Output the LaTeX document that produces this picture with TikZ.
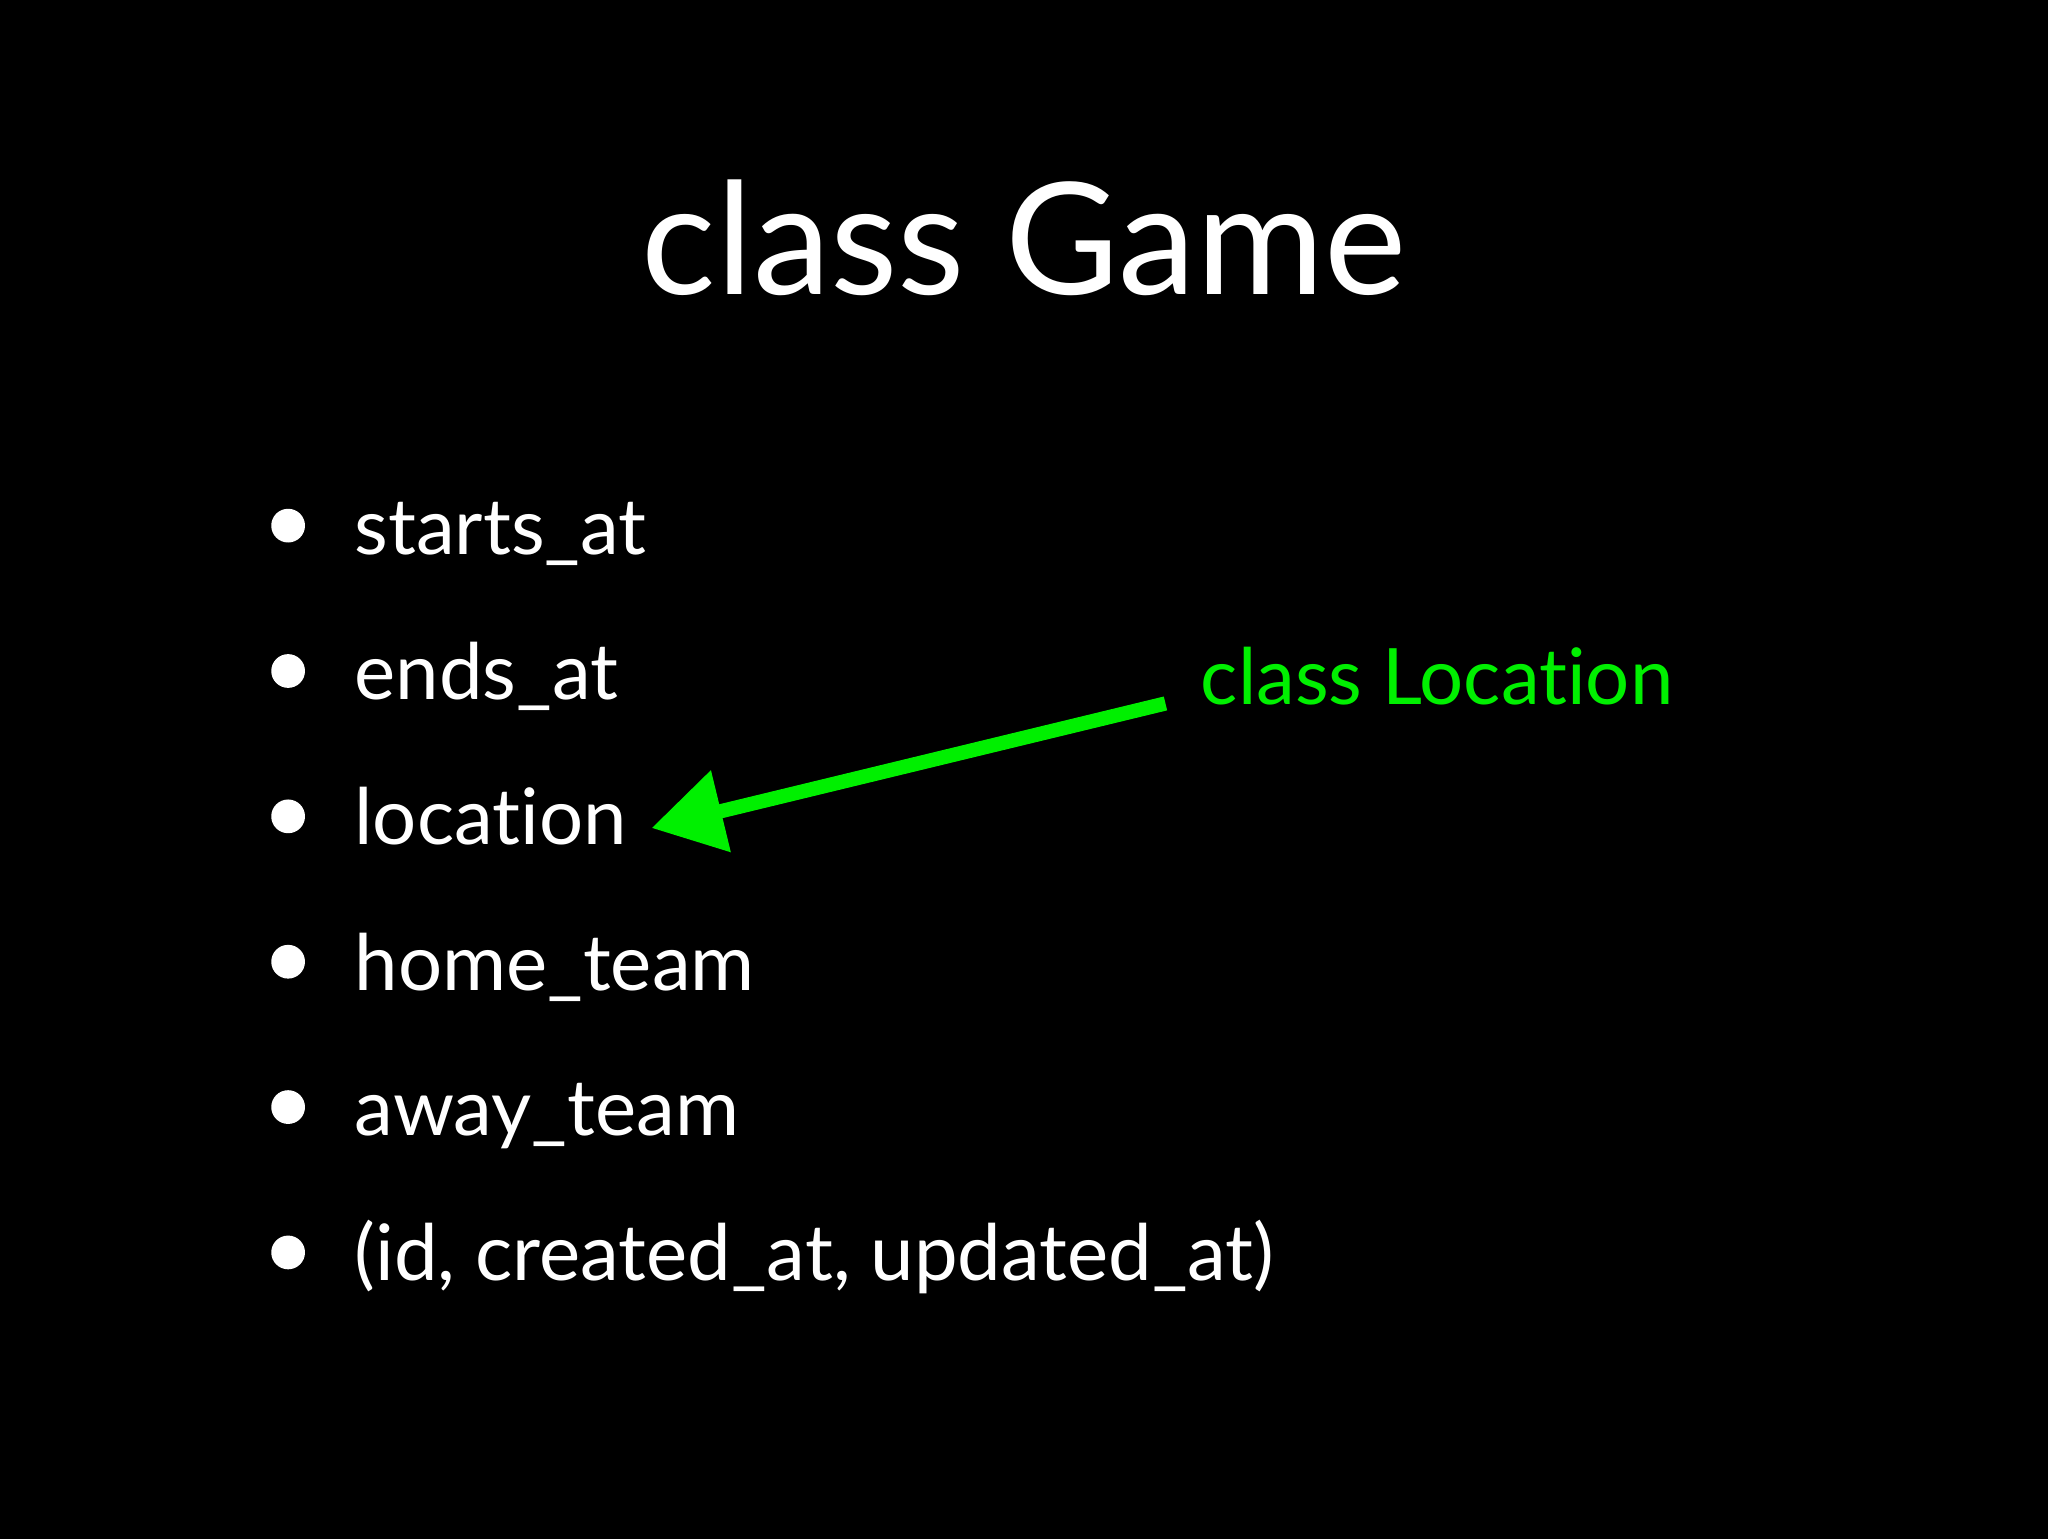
\documentclass[tikz,border=0pt]{standalone}
\usepackage{fontspec}
\setmainfont[Ligatures={NoCommon}]{Lato}
\usetikzlibrary{arrows.meta}
\definecolor{lgreen}{RGB}{0,240,0}
\begin{document}
\begin{tikzpicture}[x=1pt,y=-1pt,
  item/.style={anchor=base west,inner sep=0pt,text=white,font=\fontsize{60}{60}\selectfont},
  dot/.style={circle,fill=white,inner sep=0pt,minimum size=26pt}]
\fill[black] (-5,-5) rectangle (1573,1181);
\useasboundingbox (0,0) rectangle (1568,1176);
\node[anchor=base,inner sep=0pt,text=white,font=\fontsize{120}{120}\selectfont] (title) at (784,222) {class Game};
\foreach \t [count=\i] in {starts\_at,ends\_at,location,home\_team,away\_team,{(id, created\_at, updated\_at)}}{
  \node[item] (i\i) at (268,{422+112*(\i-1)}) {\t};
  \node[dot] (d\i) at (217,{400+112*(\i-1)}) {};
}
\node[item,text=lgreen] (loc) at (920,538) {class Location};
\coordinate (tip) at (497,633);
\draw[lgreen,line width=11pt,-{Triangle[length=55pt,width=62pt]}] (893,537) -- (tip);
\end{tikzpicture}
\end{document}
